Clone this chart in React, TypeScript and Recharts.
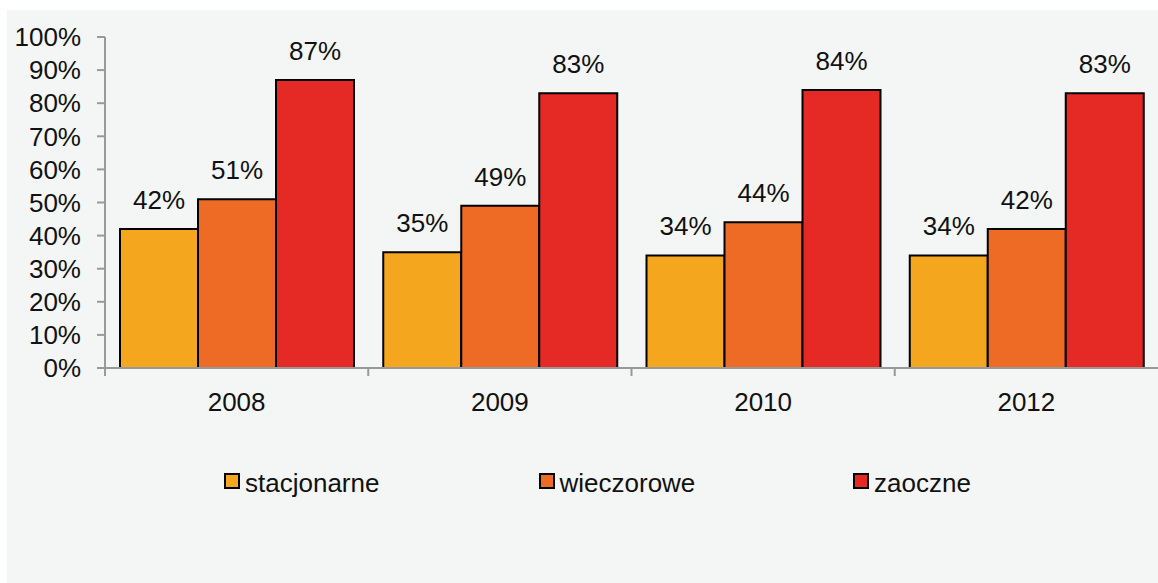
import React from "react";
import { BarChart, Bar, XAxis, YAxis, Legend, LabelList } from "recharts";

const years = ["2008", "2009", "2010", "2012"];
const stacjonarne = [42, 35, 34, 34];
const wieczorowe = [51, 49, 44, 42];
const zaoczne = [87, 83, 84, 83];
const yTicks = [0, 10, 20, 30, 40, 50, 60, 70, 80, 90, 100];

const seriesNames = ["stacjonarne", "wieczorowe", "zaoczne"];
const seriesColors = ["#F5A61F", "#EE6B25", "#E52A26"];

const data = years.map((year, i) => ({
  year,
  stacjonarne: stacjonarne[i],
  wieczorowe: wieczorowe[i],
  zaoczne: zaoczne[i],
}));

const W = 1158;
const H = 583;
const yAxisWidth = 105;
const plotTop = 37;
const plotBottom = 368;
const bandWidth = (W - yAxisWidth) / years.length;
const font = "'Liberation Sans', Arial, sans-serif";

// year label plus the Excel-style tick mark at the left edge of each category
const XTick = (props: any) => {
  const { x, y, payload } = props;
  const axisY = plotBottom;
  const edge = x - bandWidth / 2;
  return (
    <g>
      <line x1={edge} y1={axisY} x2={edge} y2={axisY + 8} stroke="#999" strokeWidth={2} />
      <text x={x} y={y} dy="0.71em" textAnchor="middle" fontSize={26} fill="#111" fontFamily={font}>
        {payload.value}
      </text>
    </g>
  );
};

const LegendBox = (props: any) => {
  const items = props.payload || [];
  return (
    <div style={{ display: "flex", fontFamily: font }}>
      {items.map((it: any) => (
        <div key={it.value} style={{ width: 314.5, display: "flex", alignItems: "flex-start" }}>
          <svg width={16} height={16} style={{ marginTop: 5, marginRight: 5 }}>
            <rect x={1} y={1} width={14} height={14} fill={it.color} stroke="#000" strokeWidth={2} />
          </svg>
          <span style={{ fontSize: 26, color: "#111", lineHeight: "30px" }}>{it.value}</span>
        </div>
      ))}
    </div>
  );
};

export default function App() {
  return (
    <div style={{ position: "absolute", left: 0, top: 0, width: W, height: H, background: "#fff" }}>
      <div style={{ position: "absolute", left: 7, top: 10, width: W - 7, height: H - 10, background: "#F4F6F5" }} />
      <div style={{ position: "absolute", left: 0, top: 0 }}>
        <BarChart
          width={W}
          height={H}
          data={data}
          margin={{ top: plotTop, right: 0, bottom: 0, left: 0 }}
          barCategoryGap="5.7%"
          barGap={0}
        >
          <XAxis
            dataKey="year"
            height={H - plotBottom}
            axisLine={{ stroke: "#999", strokeWidth: 2 }}
            tickLine={false}
            tickSize={8}
            tickMargin={17}
            tick={<XTick />}
            interval={0}
          />
          <YAxis
            width={yAxisWidth}
            domain={[0, 100]}
            ticks={yTicks}
            interval={0}
            tickFormatter={(v: number) => `${v}%`}
            axisLine={{ stroke: "#999", strokeWidth: 2 }}
            tickLine={{ stroke: "#999", strokeWidth: 2 }}
            tickSize={8}
            tickMargin={16}
            tick={{ fontSize: 26, fill: "#111", fontFamily: font }}
          />
          <Legend
            layout="horizontal"
            verticalAlign="middle"
            align="center"
            content={<LegendBox />}
            wrapperStyle={{ top: 468, left: 224, width: 960 }}
          />
          {seriesNames.map((name, i) => (
            <Bar
              key={name}
              dataKey={name}
              name={name}
              fill={seriesColors[i]}
              stroke="#000"
              strokeWidth={2}
              isAnimationActive={false}
            >
              <LabelList
                dataKey={name}
                position="top"
                offset={20}
                formatter={(v: any) => `${v}%`}
                style={{ fontSize: 26, fill: "#111", fontFamily: font }}
              />
            </Bar>
          ))}
        </BarChart>
      </div>
    </div>
  );
}
